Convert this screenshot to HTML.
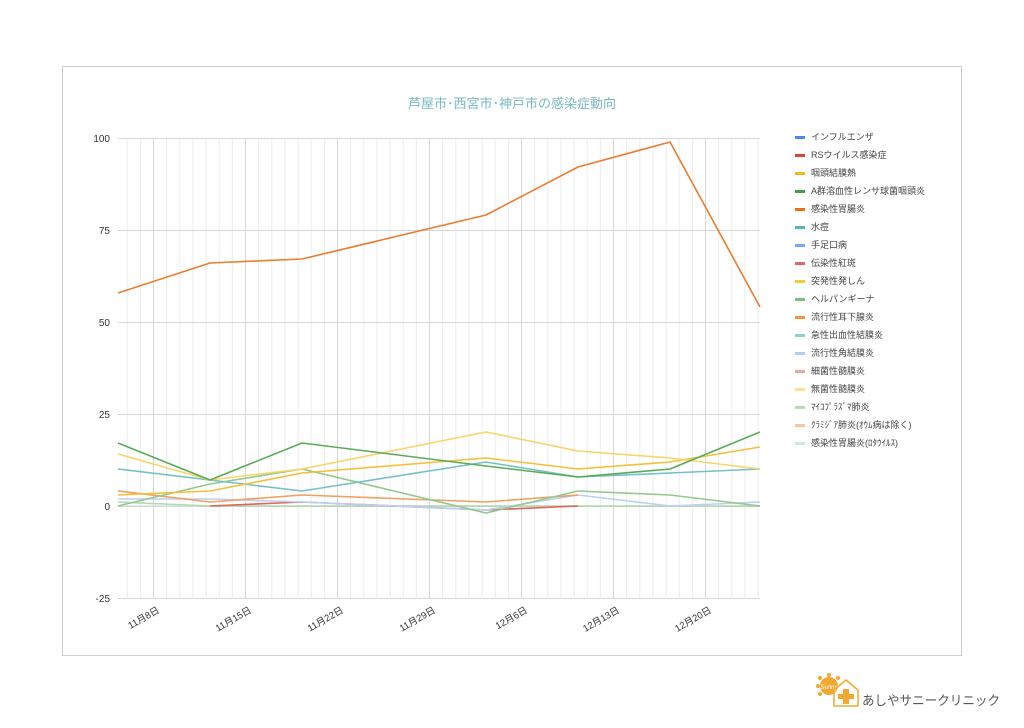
<!DOCTYPE html>
<html><head><meta charset="utf-8"><style>
body{margin:0;background:#fff;width:1024px;height:723px;overflow:hidden;font-family:"Liberation Sans","Noto Sans CJK JP",sans-serif}
</style></head><body>
<svg width="1024" height="723" xmlns="http://www.w3.org/2000/svg" font-family="Liberation Sans, Noto Sans CJK JP, sans-serif">
<defs><pattern id="mg" patternUnits="userSpaceOnUse" x="153" y="0" width="13.143" height="723"><line x1="0.5" y1="0" x2="0.5" y2="723" stroke="#ececec" stroke-width="1"/></pattern></defs>
<rect x="62.5" y="66.5" width="899" height="589" fill="#fff" stroke="#cfcfcf"/>
<text x="512" y="108" text-anchor="middle" font-size="13" fill="#79b8c3">芦屋市･西宮市･神戸市の感染症動向</text>
<rect x="118" y="138" width="642" height="460" fill="url(#mg)"/>
<g stroke="#d6d6d6" stroke-width="1">
<line x1="153.5" y1="138" x2="153.5" y2="598"/><line x1="245.5" y1="138" x2="245.5" y2="598"/><line x1="337.5" y1="138" x2="337.5" y2="598"/><line x1="429.5" y1="138" x2="429.5" y2="598"/><line x1="521.5" y1="138" x2="521.5" y2="598"/><line x1="613.5" y1="138" x2="613.5" y2="598"/><line x1="705.5" y1="138" x2="705.5" y2="598"/>
<line x1="118" y1="138.5" x2="760" y2="138.5"/><line x1="118" y1="230.5" x2="760" y2="230.5"/><line x1="118" y1="322.5" x2="760" y2="322.5"/><line x1="118" y1="414.5" x2="760" y2="414.5"/><line x1="118" y1="598.5" x2="760" y2="598.5"/>
</g>
<line x1="118" y1="506.5" x2="760" y2="506.5" stroke="#bbb"/>
<g font-size="10" fill="#333" text-anchor="end">
<text x="110" y="142">100</text><text x="110" y="234">75</text><text x="110" y="326">50</text><text x="110" y="418">25</text><text x="110" y="510">0</text><text x="110" y="602">-25</text>
</g>
<g font-size="9.5" fill="#333" text-anchor="end">
<text transform="translate(160,612) rotate(-30)">11月8日</text>
<text transform="translate(252,612) rotate(-30)">11月15日</text>
<text transform="translate(344,612) rotate(-30)">11月22日</text>
<text transform="translate(436,612) rotate(-30)">11月29日</text>
<text transform="translate(528,612) rotate(-30)">12月6日</text>
<text transform="translate(620,612) rotate(-30)">12月13日</text>
<text transform="translate(712,612) rotate(-30)">12月20日</text>
</g>
<g fill="none" stroke-width="1.6" stroke-linejoin="round">
<polyline stroke="#cfe8e6" points="118,506 210,506 302,506 486,506 578,506 670,506 760,506"/>
<polyline stroke="#b7d9b0" points="118,502 210,506 302,506 486,506 578,506 670,506 760,506"/>
<polyline stroke="#e06459" points="210,506 302,502 486,510 578,506"/>
<polyline stroke="#bcd0f5" points="118,499 210,499 302,502 486,510 578,495 670,506 760,502"/>
<polyline stroke="#f0a060" points="118,491 210,502 302,495 486,502 578,495"/>
<polyline stroke="#93c98d" points="118,506 210,484 302,469 486,513 578,491 670,495 760,506"/>
<polyline stroke="#76bfc6" points="118,469 210,480 302,491 486,462 578,477 670,473 760,469"/>
<polyline stroke="#f6bf3a" points="118,495 210,491 302,473 486,458 578,469 670,462 760,447"/>
<polyline stroke="#f8d56a" points="118,454 210,480 302,469 486,432 578,451 670,458 760,469"/>
<polyline stroke="#5aab58" points="118,443 210,480 302,443 486,466 578,477 670,469 760,432"/>
<polyline stroke="#ec7c30" points="118,293 210,263 302,259 486,215 578,167 670,142 760,307"/>
</g>
<g font-size="9" fill="#444">
<g transform="translate(795,137)">
<rect x="0" y="-1" width="10" height="3" fill="#4f86e8"/><text x="16" y="3">インフルエンザ</text>
<rect x="0" y="17" width="10" height="3" fill="#d9443a"/><text x="16" y="21">RSウイルス感染症</text>
<rect x="0" y="35" width="10" height="3" fill="#f6b91b"/><text x="16" y="39">咽頭結膜熱</text>
<rect x="0" y="53" width="10" height="3" fill="#43a047"/><text x="16" y="57">A群溶血性レンサ球菌咽頭炎</text>
<rect x="0" y="71" width="10" height="3" fill="#ec6c1c"/><text x="16" y="75">感染性胃腸炎</text>
<rect x="0" y="89" width="10" height="3" fill="#5bb3ba"/><text x="16" y="93">水痘</text>
<rect x="0" y="107" width="10" height="3" fill="#7ea3f0"/><text x="16" y="111">手足口病</text>
<rect x="0" y="125" width="10" height="3" fill="#e06a62"/><text x="16" y="129">伝染性紅斑</text>
<rect x="0" y="143" width="10" height="3" fill="#f8c936"/><text x="16" y="147">突発性発しん</text>
<rect x="0" y="161" width="10" height="3" fill="#7cbf7a"/><text x="16" y="165">ヘルパンギーナ</text>
<rect x="0" y="179" width="10" height="3" fill="#f0964a"/><text x="16" y="183">流行性耳下腺炎</text>
<rect x="0" y="197" width="10" height="3" fill="#8fcfcf"/><text x="16" y="201">急性出血性結膜炎</text>
<rect x="0" y="215" width="10" height="3" fill="#b5c9f5"/><text x="16" y="219">流行性角結膜炎</text>
<rect x="0" y="233" width="10" height="3" fill="#eba8a2"/><text x="16" y="237">細菌性髄膜炎</text>
<rect x="0" y="251" width="10" height="3" fill="#fbe08f"/><text x="16" y="255">無菌性髄膜炎</text>
<rect x="0" y="269" width="10" height="3" fill="#b7dcb4"/><text x="16" y="273">ﾏｲｺﾌﾟﾗｽﾞﾏ肺炎</text>
<rect x="0" y="287" width="10" height="3" fill="#f7c39a"/><text x="16" y="291">ｸﾗﾐｼﾞｱ肺炎(ｵｳﾑ病は除く)</text>
<rect x="0" y="305" width="10" height="3" fill="#c6e8e6"/><text x="16" y="309">感染性胃腸炎(ﾛﾀｳｲﾙｽ)</text>
</g></g>
<g>
<circle cx="829" cy="686" r="9" fill="#f0a830"/>
<g fill="#f0a830"><circle cx="818" cy="686" r="2"/><circle cx="829" cy="675" r="2"/><circle cx="820" cy="678" r="2"/><circle cx="838" cy="678" r="2"/><circle cx="820" cy="694" r="2"/></g>
<text x="829" y="689" font-size="6" fill="#fff" text-anchor="middle">Sunny</text>
<path d="M834 706 V690 L846 680 L858 690 V706 Z" fill="none" stroke="#f0a830" stroke-width="1.5"/>
<rect x="843" y="689" width="6" height="15" fill="#f0a830"/><rect x="838" y="694" width="16" height="5" fill="#f0a830"/>
<text x="862" y="705" font-size="13" fill="#555" textLength="138" lengthAdjust="spacingAndGlyphs">あしやサニークリニック</text>
</g>
</svg>
</body></html>
